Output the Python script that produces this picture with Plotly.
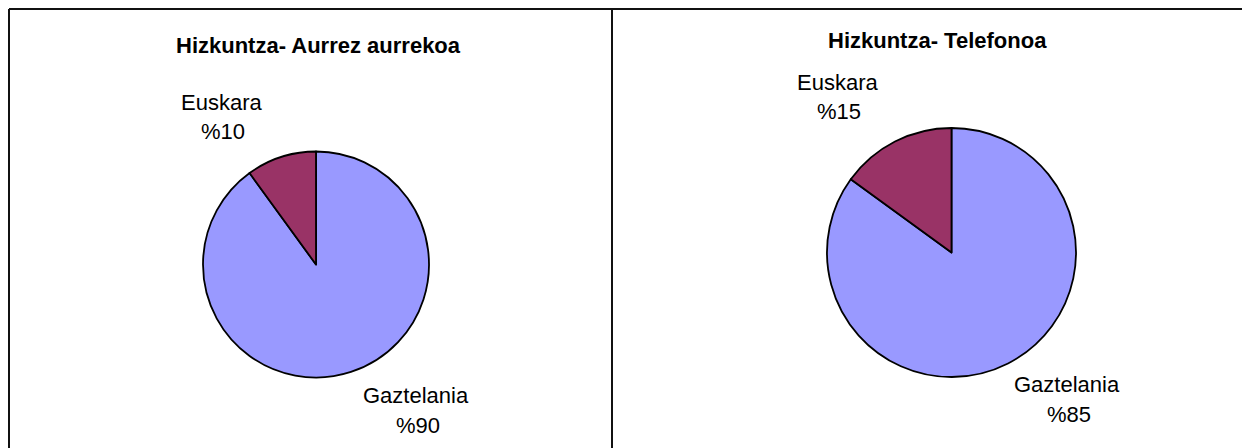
import plotly.graph_objects as go

# The browser page has an 8px body margin; the figure is sized and positioned to compensate.
OFF = 8
W, H = 1250 - OFF, 448 - OFF

titles = ["Hizkuntza- Aurrez aurrekoa", "Hizkuntza- Telefonoa"]
labels = ["Gaztelania", "Euskara"]
values_aurrez = [90, 10]
values_telefono = [85, 15]
colors = ["#9999FF", "#993366"]

FONT = "Liberation Sans, Arial, sans-serif"

def px_x(x):
    return (x - OFF) / W

def px_y(y):
    return 1 - (y - OFF) / H

fig = go.Figure()

pies = [
    dict(vals=values_aurrez, cx=316, cy=264.5, r=113),
    dict(vals=values_telefono, cx=951.5, cy=252.5, r=124.5),
]
for p in pies:
    fig.add_trace(go.Pie(
        labels=labels, values=p["vals"], sort=False, direction="clockwise",
        rotation=0,
        marker=dict(colors=colors, line=dict(color="black", width=1.8)),
        textinfo="none", hoverinfo="label+percent", showlegend=False,
        domain=dict(x=[px_x(p["cx"] - p["r"]), px_x(p["cx"] + p["r"])],
                    y=[px_y(p["cy"] + p["r"]), px_y(p["cy"] - p["r"])]),
    ))

title_pos = [(318, 45), (937, 40)]
for t, (x, y) in zip(titles, title_pos):
    fig.add_annotation(text=f"<b>{t}</b>", x=px_x(x), y=px_y(y), xref="paper", yref="paper",
                       showarrow=False, xanchor="center", yanchor="middle",
                       font=dict(family=FONT, size=22, color="black"))

label_pos = [
    [(416, 395), (221, 102)],
    [(1067, 384), (837, 82)],
]
for p, poss in zip(pies, label_pos):
    for lab, val, (x, y) in zip(labels, p["vals"], poss):
        fig.add_annotation(text=lab, x=px_x(x), y=px_y(y), xref="paper", yref="paper",
                           showarrow=False, xanchor="center", yanchor="middle",
                           font=dict(family=FONT, size=22, color="black"))
        fig.add_annotation(text=f"%{val}", x=px_x(x + 2), y=px_y(y + 30), xref="paper", yref="paper",
                           showarrow=False, xanchor="center", yanchor="middle",
                           font=dict(family=FONT, size=22, color="black"))

line = dict(color="#111111", width=2)
fig.add_shape(type="line", xref="paper", yref="paper", x0=px_x(9), x1=1, y0=px_y(9), y1=px_y(9), line=line)
fig.add_shape(type="line", xref="paper", yref="paper", x0=px_x(9), x1=px_x(9), y0=px_y(9), y1=0, line=line)
fig.add_shape(type="line", xref="paper", yref="paper", x0=px_x(612), x1=px_x(612), y0=px_y(9), y1=0, line=line)

fig.update_layout(width=W, height=H, margin=dict(l=0, r=0, t=0, b=0),
                  paper_bgcolor="white", plot_bgcolor="white")

fig.write_html("out.html")
